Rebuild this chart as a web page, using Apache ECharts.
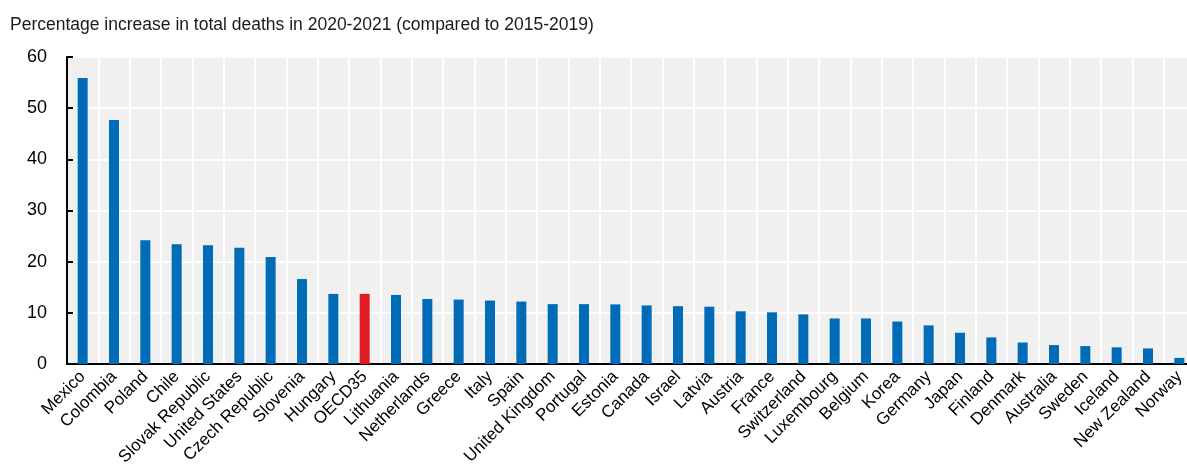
<!DOCTYPE html>
<html>
<head>
<meta charset="utf-8">
<script src="https://cdn.jsdelivr.net/npm/echarts@6/dist/echarts.min.js"></script>
<style>
  html, body { margin: 0; padding: 0; background: #fff; }
  #chart { width: 1187px; height: 467px; }
</style>
</head>
<body>
<div id="chart"></div>
<script>
var countries = ['Mexico', 'Colombia', 'Poland', 'Chile', 'Slovak Republic', 'United States',
  'Czech Republic', 'Slovenia', 'Hungary', 'OECD35', 'Lithuania', 'Netherlands', 'Greece',
  'Italy', 'Spain', 'United Kingdom', 'Portugal', 'Estonia', 'Canada', 'Israel', 'Latvia',
  'Austria', 'France', 'Switzerland', 'Luxembourg', 'Belgium', 'Korea', 'Germany', 'Japan',
  'Finland', 'Denmark', 'Australia', 'Sweden', 'Iceland', 'New Zealand', 'Norway']
var increase = [55.9, 47.7, 24.2, 23.4, 23.2, 22.7, 20.9, 16.6, 13.7, 13.7, 13.5, 12.7, 12.6,
  12.4, 12.2, 11.7, 11.7, 11.65, 11.45, 11.3, 11.2, 10.3, 10.1, 9.7, 8.9, 8.9, 8.3, 7.55, 6.1,
  5.2, 4.2, 3.7, 3.5, 3.25, 3.05, 1.2]
var highlight = 'OECD35'
var titleText = 'Percentage increase in total deaths in 2020-2021 (compared to 2015-2019)'

var font = '"Liberation Sans", Arial, sans-serif'
var myChart = echarts.init(document.getElementById('chart'))

myChart.setOption({
  backgroundColor: '#ffffff',
  animation: false,
  title: {
    text: titleText,
    left: 5,
    top: 11,
    textStyle: { fontFamily: font, fontSize: 17.5, fontWeight: 'normal', color: '#1a1a1a' }
  },
  grid: {
    left: 67,
    right: -8,
    top: 57,
    bottom: 103,
    outerBoundsMode: 'none',
    show: true,
    backgroundColor: '#f0f0f0',
    borderWidth: 0
  },
  xAxis: {
    type: 'category',
    data: countries,
    axisLine: { lineStyle: { color: '#000', width: 2 } },
    axisTick: { inside: true, length: 5, lineStyle: { color: '#000', width: 2 } },
    splitLine: { show: true, lineStyle: { color: '#ffffff', width: 2 } },
    axisLabel: {
      interval: 0,
      rotate: 45,
      margin: 10,
      fontFamily: font,
      fontSize: 17,
      color: '#000'
    }
  },
  yAxis: {
    type: 'value',
    min: 0,
    max: 60,
    interval: 10,
    axisLine: { show: true, lineStyle: { color: '#000', width: 2 } },
    axisTick: { show: true, inside: true, length: 6, lineStyle: { color: '#000', width: 2 } },
    splitLine: { lineStyle: { color: '#ffffff', width: 2 } },
    axisLabel: { fontFamily: font, fontSize: 18, color: '#000', margin: 20 }
  },
  series: [{
    type: 'bar',
    barWidth: 10,
    data: increase.map(function (v, i) {
      return {
        value: v,
        itemStyle: { color: countries[i] === highlight ? '#e01b22' : '#006bb6' }
      }
    })
  }]
})
</script>
</body>
</html>
